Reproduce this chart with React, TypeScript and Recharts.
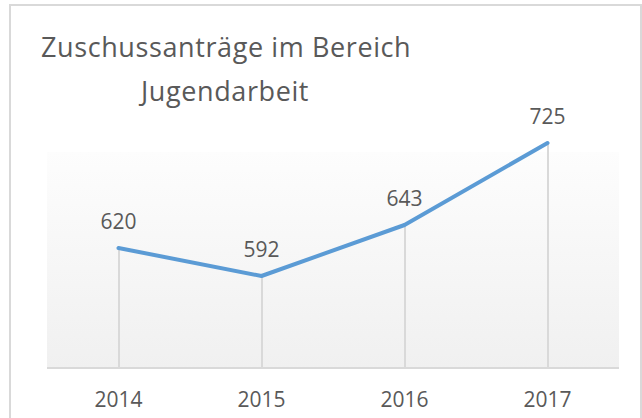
import React from 'react';
import { ComposedChart, Line, Bar, XAxis, YAxis, CartesianGrid, LabelList } from 'recharts';

const years = ['2014', '2015', '2016', '2017'];
const antraege = [620, 592, 643, 725];
const yDomain = [500, 750];
const titleLines = ['Zuschussanträge im Bereich', 'Jugendarbeit'];

const data = years.map((year, i) => ({ year, value: antraege[i] }));

const textColor = '#595959';
const font = '"Open Sans", sans-serif';

const App: React.FC = () => {
  return (
    <div style={{ position: 'absolute', left: 0, top: 0, width: 642, height: 418, overflow: 'hidden', background: '#fff' }}>
      <div
        style={{
          position: 'absolute',
          left: 9,
          top: 4,
          width: 629,
          height: 430,
          border: '2px solid #d9d9d9',
        }}
      />
      <div style={{ position: 'absolute', left: 0, top: 0 }}>
        <ComposedChart
          width={642}
          height={418}
          data={data}
          margin={{ top: 118, right: 23, bottom: 0, left: 47 }}
        >
          <defs>
            <linearGradient id="plotBg" x1="0" y1="0" x2="0" y2="1">
              <stop offset="0" stopColor="#ffffff" stopOpacity={0} />
              <stop offset="0.136" stopColor="#ffffff" stopOpacity={0} />
              <stop offset="0.136" stopColor="#fdfdfd" stopOpacity={1} />
              <stop offset="1" stopColor="#f0f0f0" stopOpacity={1} />
            </linearGradient>
          </defs>
          <CartesianGrid horizontal={false} vertical={false} fill="url(#plotBg)" />
          <XAxis
            dataKey="year"
            height={50}
            stroke="#d9d9d9"
            strokeWidth={2}
            tickLine={false}
            tickSize={0}
            tickMargin={24}
            tick={{ fill: textColor, fontSize: 21, fontFamily: font }}
          />
          <YAxis hide domain={yDomain} />
          <Bar dataKey="value" barSize={2} fill="#d9d9d9" isAnimationActive={false} />
          <Line
            type="linear"
            dataKey="value"
            stroke="#5b9bd5"
            strokeWidth={4}
            strokeLinejoin="round"
            strokeLinecap="round"
            dot={false}
            activeDot={false}
            isAnimationActive={false}
          >
            <LabelList
              dataKey="value"
              position="top"
              offset={19}
              fill={textColor}
              fontSize={21}
              fontFamily={font}
            />
          </Line>
        </ComposedChart>
      </div>
      <svg width={642} height={418} style={{ position: 'absolute', left: 0, top: 0, pointerEvents: 'none' }}>
        <text x={41} y={57} fill={textColor} fontSize={27} fontFamily={font} letterSpacing={0.6}>
          {titleLines[0]}
        </text>
        <text x={141} y={101} fill={textColor} fontSize={27} fontFamily={font} letterSpacing={0.6}>
          {titleLines[1]}
        </text>
      </svg>
    </div>
  );
};

export default App;
